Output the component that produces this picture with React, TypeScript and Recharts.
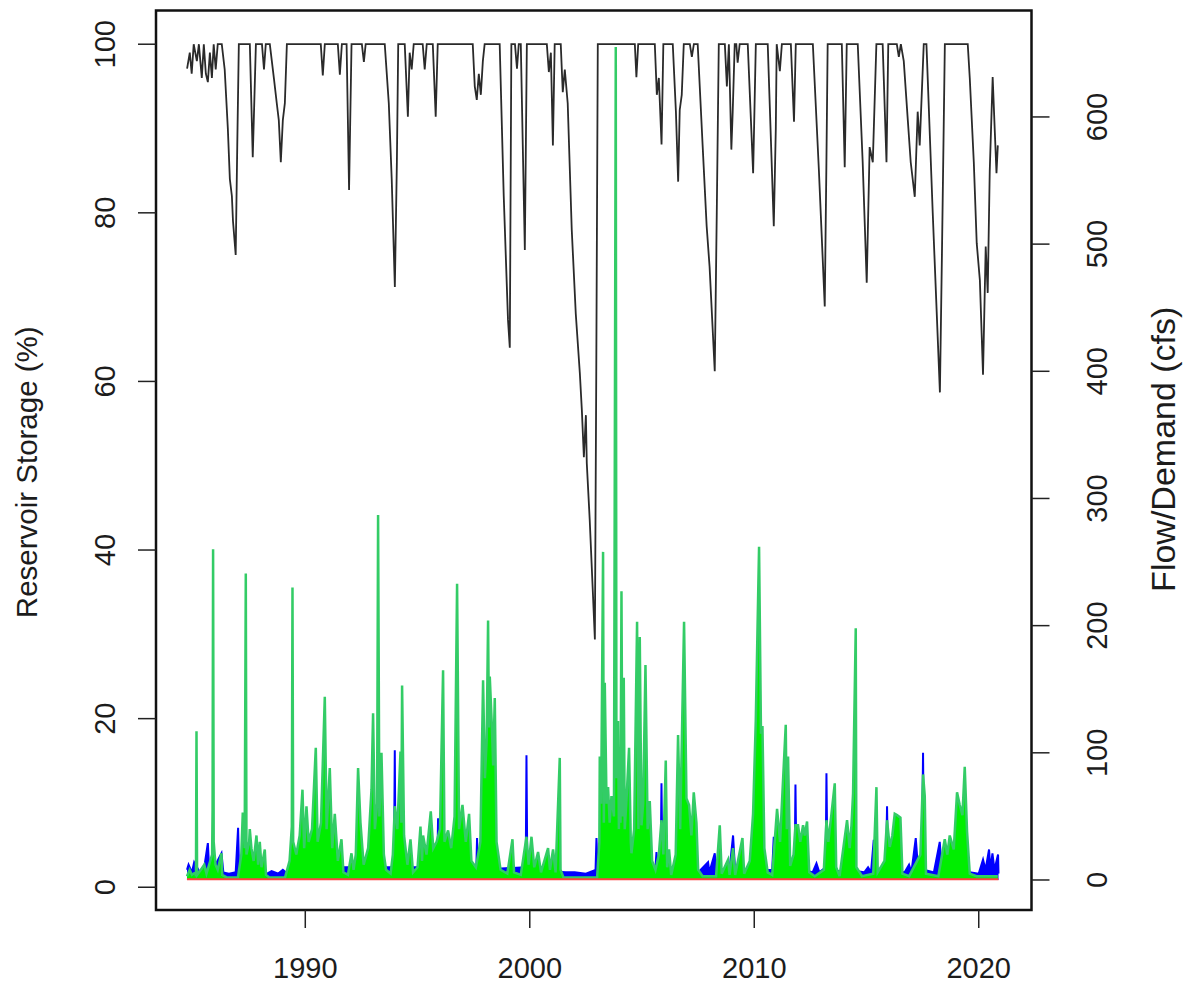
import { ComposedChart, Line, Area, XAxis, YAxis, ReferenceArea } from "recharts";

// Reservoir storage (%), [decimal year, percent full]
const storagePoints: [number, number][] = [
  [1984.735, 97.1], [1984.855, 99], [1984.94, 96.5], [1985.03, 100], [1985.17, 98], [1985.26, 100],
  [1985.39, 96], [1985.48, 100], [1985.57, 96.5], [1985.66, 95.5], [1985.75, 99], [1985.84, 96],
  [1985.92, 100], [1986.01, 97], [1986.1, 100], [1986.28, 100], [1986.41, 97], [1986.55, 90],
  [1986.64, 84], [1986.73, 82], [1986.78, 79], [1986.9, 75], [1986.97, 88], [1987.04, 100],
  [1987.53, 100], [1987.66, 86.6], [1987.8, 100], [1988.07, 100], [1988.16, 97], [1988.24, 100],
  [1988.42, 100], [1988.6, 96], [1988.73, 93], [1988.82, 91], [1988.91, 86], [1989.0, 91],
  [1989.09, 93], [1989.18, 100], [1990.69, 100], [1990.78, 96.3], [1990.87, 100], [1991.45, 100],
  [1991.54, 96.4], [1991.63, 100], [1991.84, 100], [1991.95, 82.7], [1992.06, 100], [1992.52, 100],
  [1992.61, 97.9], [1992.69, 100], [1993.54, 100], [1993.72, 93], [1993.85, 84], [1993.99, 71.2],
  [1994.08, 86], [1994.14, 100], [1994.43, 100], [1994.57, 91.4], [1994.65, 99], [1994.74, 97],
  [1994.83, 100], [1995.23, 100], [1995.32, 97], [1995.41, 100], [1995.68, 100], [1995.81, 91.4],
  [1995.9, 100], [1997.46, 100], [1997.55, 95], [1997.64, 93.4], [1997.73, 96.5], [1997.82, 94],
  [1997.91, 98], [1997.99, 100], [1998.66, 100], [1998.84, 82], [1999.03, 67.3], [1999.11, 64],
  [1999.18, 100], [1999.34, 100], [1999.43, 97.1], [1999.51, 100], [1999.6, 100], [1999.78, 75.6],
  [1999.87, 100], [2000.76, 100], [2000.85, 96.7], [2000.94, 99], [2001.03, 88], [2001.11, 100],
  [2001.38, 100], [2001.47, 94.3], [2001.56, 97], [2001.69, 93], [2001.87, 78], [2002.05, 68],
  [2002.23, 61], [2002.32, 56.6], [2002.41, 51], [2002.5, 56], [2002.54, 50.3], [2002.67, 43.6],
  [2002.81, 35], [2002.9, 29.4], [2002.96, 60], [2003.03, 100], [2004.68, 100], [2004.75, 96.1],
  [2004.83, 100], [2005.57, 100], [2005.66, 94], [2005.75, 96], [2005.87, 88.1], [2005.95, 100],
  [2006.37, 100], [2006.51, 92], [2006.61, 83.7], [2006.68, 92.2], [2006.77, 94], [2006.86, 100],
  [2007.13, 100], [2007.22, 98.5], [2007.31, 100], [2007.48, 100], [2007.7, 88], [2007.88, 78.4],
  [2008.01, 73.6], [2008.24, 61.2], [2008.33, 80], [2008.42, 100], [2008.69, 100], [2008.78, 95],
  [2008.87, 100], [2008.98, 87.5], [2009.04, 92], [2009.13, 100], [2009.2, 100], [2009.26, 97.8],
  [2009.35, 100], [2009.71, 100], [2009.95, 84.7], [2010.07, 100], [2010.6, 100], [2010.87, 78.4],
  [2010.96, 90], [2011.0, 100], [2011.14, 96.8], [2011.23, 100], [2011.63, 100], [2011.77, 90.8],
  [2011.85, 100], [2012.61, 100], [2012.88, 85], [2013.14, 68.9], [2013.21, 85], [2013.27, 100],
  [2013.9, 100], [2013.96, 93.4], [2014.03, 85.4], [2014.12, 100], [2014.61, 100], [2014.83, 86],
  [2015.01, 71.7], [2015.14, 87.8], [2015.28, 86], [2015.44, 100], [2015.72, 100], [2015.89, 86],
  [2015.97, 100], [2016.35, 100], [2016.44, 98.5], [2016.53, 100], [2016.66, 98], [2016.84, 91],
  [2016.97, 86], [2017.15, 81.9], [2017.28, 92], [2017.37, 88], [2017.55, 100], [2017.67, 100],
  [2017.95, 80], [2018.27, 58.7], [2018.36, 75], [2018.49, 100], [2019.51, 100], [2019.6, 96],
  [2019.78, 86], [2019.91, 76.4], [2020.05, 72], [2020.19, 60.8], [2020.31, 76], [2020.4, 70.5],
  [2020.49, 85], [2020.62, 96.1], [2020.71, 90], [2020.79, 84.7], [2020.85, 88],
];

// Inflow (cfs), blue
const inflowPoints: [number, number][] = [
  [1984.73, 8], [1984.8, 12], [1984.95, 6], [1985.05, 14], [1985.3, 6], [1985.5, 10], [1985.66, 29],
  [1985.72, 8], [1986.0, 12], [1986.267, 21], [1986.35, 6], [1986.6, 5], [1986.9, 6], [1987.007, 41],
  [1987.05, 8], [1988.3, 5], [1988.5, 7], [1988.8, 5], [1989.0, 8], [1989.2, 5], [1989.4, 10],
  [1993.95, 10], [1993.987, 102], [1994.02, 10], [1995.88, 10], [1995.915, 48.5],
  [1995.95, 8], [1997.62, 10], [1997.652, 33], [1997.69, 8], [1999.82, 10], [1999.853, 98], [1999.89, 8],
  [2001.6, 6], [2002.0, 6], [2002.5, 5], [2002.93, 8], [2002.971, 33], [2003.02, 10], [2005.6, 10],
  [2005.644, 22], [2005.7, 10], [2005.83, 10], [2005.867, 76], [2005.91, 10], [2007.5, 6], [2007.942, 14],
  [2008.0, 6], [2008.241, 21], [2008.3, 6], [2008.9, 8], [2009.056, 35], [2009.15, 6], [2010.8, 8],
  [2010.869, 34], [2010.95, 8], [2011.8, 10], [2011.835, 75], [2011.88, 10], [2012.6, 6],
  [2012.771, 13], [2012.9, 6], [2013.18, 10], [2013.216, 84], [2013.26, 10], [2013.9, 6],
  [2014.031, 21], [2014.1, 8], [2014.9, 6], [2015.069, 10], [2015.2, 6], [2015.323, 31.5],
  [2015.4, 8], [2015.87, 10], [2015.915, 58], [2015.96, 8], [2016.7, 6], [2016.895, 12], [2017.0, 6],
  [2017.194, 33], [2017.3, 8], [2017.47, 20], [2017.519, 100], [2017.56, 8], [2018.0, 6],
  [2018.263, 30], [2018.35, 8], [2019.6, 6], [2020.0, 5], [2020.191, 16], [2020.3, 8],
  [2020.459, 24], [2020.52, 8], [2020.61, 21], [2020.7, 8], [2020.86, 20], [2020.88, 5],
];

// Release / outflow (cfs), green
const releasePoints: [number, number][] = [
  [1984.73, 3], [1984.85, 8], [1984.95, 4], [1985.1, 6], [1985.13, 3], [1985.154, 117], [1985.18, 4],
  [1985.35, 8], [1985.5, 12], [1985.6, 5], [1985.85, 20], [1985.87, 55], [1985.893, 260],
  [1985.92, 30], [1986.0, 12], [1986.1, 8], [1986.267, 21], [1986.3, 4], [1986.5, 2], [1987.0, 2],
  [1987.15, 20], [1987.216, 53], [1987.3, 25], [1987.35, 241], [1987.38, 20], [1987.5, 30],
  [1987.528, 40], [1987.6, 25], [1987.7, 15], [1987.826, 35], [1987.9, 12], [1987.973, 30],
  [1988.05, 10], [1988.196, 24], [1988.25, 4], [1988.4, 2], [1989.1, 2], [1989.3, 15], [1989.4, 42],
  [1989.43, 230], [1989.46, 30], [1989.6, 20], [1989.75, 35], [1989.875, 71], [1989.95, 25],
  [1990.053, 58], [1990.15, 30], [1990.3, 40], [1990.468, 104], [1990.55, 30], [1990.7, 45],
  [1990.869, 144], [1990.95, 40], [1991.091, 88], [1991.2, 25], [1991.314, 52], [1991.45, 15],
  [1991.612, 32], [1991.7, 6], [1991.9, 4], [1992.058, 21], [1992.15, 8], [1992.25, 20],
  [1992.352, 88], [1992.459, 45], [1992.6, 12], [1992.8, 25], [1992.949, 71], [1993.02, 131],
  [1993.1, 40], [1993.2, 60], [1993.243, 287], [1993.3, 50], [1993.394, 100], [1993.5, 20],
  [1993.6, 8], [1993.8, 5], [1993.9, 20], [1993.987, 58], [1994.1, 40], [1994.241, 101],
  [1994.28, 45], [1994.312, 153], [1994.4, 35], [1994.55, 12], [1994.686, 32], [1994.8, 6], [1995.0, 10],
  [1995.131, 42], [1995.2, 15], [1995.247, 35], [1995.4, 20], [1995.59, 54], [1995.7, 25],
  [1995.85, 30], [1996.0, 40], [1996.138, 165], [1996.2, 30], [1996.361, 39], [1996.5, 25],
  [1996.65, 50], [1996.762, 233], [1996.85, 40], [1997.002, 59], [1997.15, 30], [1997.296, 52],
  [1997.4, 15], [1997.6, 10], [1997.8, 30], [1997.92, 157], [1998.0, 80], [1998.08, 110],
  [1998.143, 204], [1998.18, 120], [1998.218, 160], [1998.3, 126], [1998.37, 90], [1998.441, 143], [1998.52, 30],
  [1998.7, 8], [1999.0, 5], [1999.229, 32], [1999.3, 6], [1999.6, 4], [1999.853, 34], [1999.95, 12],
  [2000.076, 34], [2000.2, 10], [2000.37, 22], [2000.5, 6], [2000.815, 25], [2000.9, 8],
  [2001.038, 24], [2001.15, 6], [2001.336, 96], [2001.37, 8], [2001.5, 2], [2003.0, 2],
  [2003.1, 30], [2003.118, 97], [2003.18, 60], [2003.265, 258], [2003.3, 45], [2003.341, 155], [2003.42, 60],
  [2003.488, 73], [2003.56, 45], [2003.639, 66], [2003.75, 50], [2003.831, 655], [2003.86, 80],
  [2003.933, 125], [2003.97, 40], [2004.0, 90], [2004.04, 45], [2004.085, 227], [2004.13, 50],
  [2004.187, 159], [2004.23, 40], [2004.3, 60], [2004.423, 104],
  [2004.5, 30], [2004.53, 21], [2004.65, 40], [2004.78, 203], [2004.84, 40], [2004.9, 191], [2004.976, 43],
  [2005.05, 60], [2005.154, 169], [2005.25, 40], [2005.345, 62], [2005.45, 15], [2005.6, 8],
  [2005.75, 20], [2005.867, 47], [2005.95, 20], [2006.058, 94], [2006.12, 10], [2006.205, 24],
  [2006.3, 4], [2006.5, 20], [2006.606, 114], [2006.7, 40], [2006.873, 203], [2006.98, 64],
  [2007.096, 59], [2007.2, 35], [2007.305, 69], [2007.425, 45], [2007.5, 8], [2007.7, 3],
  [2008.3, 3], [2008.463, 43], [2008.55, 5], [2008.833, 16], [2008.9, 4], [2009.056, 25],
  [2009.15, 4], [2009.474, 33], [2009.55, 5], [2009.8, 15], [2009.947, 52], [2010.067, 125],
  [2010.214, 262], [2010.3, 115], [2010.365, 121], [2010.45, 25], [2010.6, 6], [2010.8, 4],
  [2011.016, 56], [2011.15, 30], [2011.283, 79], [2011.403, 122], [2011.45, 40], [2011.506, 97], [2011.6, 11],
  [2011.75, 20], [2011.835, 43], [2011.951, 43], [2012.05, 30], [2012.174, 43], [2012.25, 35],
  [2012.352, 46], [2012.45, 6], [2012.7, 3], [2013.1, 8], [2013.216, 47], [2013.3, 30],
  [2013.439, 52], [2013.586, 76], [2013.65, 10], [2013.8, 3], [2014.134, 47], [2014.25, 25],
  [2014.33, 43], [2014.401, 68], [2014.521, 198], [2014.55, 10], [2014.8, 3], [2015.3, 5],
  [2015.443, 73], [2015.5, 6], [2015.8, 15], [2015.915, 47], [2016.036, 26], [2016.15, 35],
  [2016.258, 52], [2016.361, 51], [2016.512, 49], [2016.6, 5], [2016.9, 3], [2017.4, 20],
  [2017.519, 83], [2017.595, 66], [2017.65, 5], [2018.2, 3], [2018.486, 32], [2018.6, 20],
  [2018.708, 35], [2018.886, 24], [2019.033, 69], [2019.154, 59], [2019.274, 51], [2019.376, 89],
  [2019.479, 38], [2019.6, 5], [2019.9, 3], [2020.85, 3],
];

// Demand (cfs), red
const demandPoints: [number, number][] = [[1984.73, 0.5], [2020.88, 0.5]];

const yearTicks = [1990, 2000, 2010, 2020];
const storageTicks = [0, 20, 40, 60, 80, 100];
const flowTicks = [0, 100, 200, 300, 400, 500, 600];

const YEAR_DOMAIN: [number, number] = [1983.35, 2022.35];
const STORAGE_DOMAIN: [number, number] = [-2.7, 104];
const FLOW_DOMAIN: [number, number] = [-23.6, 683.7];

const FONT = "'Liberation Sans', Arial, Helvetica, sans-serif";
const FONT_SIZE = 29;
const INK = "#1c1c1c";

const rows = (pts: [number, number][]) => pts.map(([year, v]) => ({ year, v }));

function RotatedTick({ x, y, payload, dx = 0 }: any) {
  const cx = x + dx;
  return (
    <text
      x={cx}
      y={y}
      transform={`rotate(-90 ${cx} ${y})`}
      textAnchor="middle"
      dominantBaseline="central"
      fontFamily={FONT}
      fontSize={FONT_SIZE}
      fill={INK}
    >
      {payload.value}
    </text>
  );
}

function YearTick({ x, y, payload }: any) {
  return (
    <text x={x} y={y + 40} textAnchor="middle" dominantBaseline="central" fontFamily={FONT} fontSize={FONT_SIZE} fill={INK}>
      {payload.value}
    </text>
  );
}

function axisTitle(text: string, offset: number, shiftY: number, size: number) {
  return ({ viewBox }: any) => {
    const cx = viewBox.x + offset;
    const cy = viewBox.y + viewBox.height / 2 + shiftY;
    return (
      <text
        x={cx}
        y={cy}
        transform={`rotate(-90 ${cx} ${cy})`}
        textAnchor="middle"
        dominantBaseline="central"
        fontFamily={FONT}
        fontSize={size}
        fill={INK}
      >
        {text}
      </text>
    );
  };
}

export default function App() {
  const tickLine = { stroke: "#222", strokeWidth: 1.5 };
  return (
    <ComposedChart width={1177} height={980} margin={{ top: 2.5, right: 0, bottom: 0, left: 0 }}>
      <XAxis
        dataKey="year"
        type="number"
        domain={YEAR_DOMAIN}
        ticks={yearTicks}
        allowDataOverflow
        height={78}
        axisLine={false}
        tickLine={tickLine}
        tickSize={18}
        tickMargin={0}
        tick={<YearTick />}
      />
      <YAxis
        yAxisId="pct"
        orientation="left"
        domain={STORAGE_DOMAIN}
        ticks={storageTicks}
        allowDataOverflow
        width={148}
        axisLine={false}
        tickLine={tickLine}
        tickSize={18}
        tickMargin={0}
        tick={<RotatedTick dx={-33} />}
        label={{ content: axisTitle("Reservoir Storage (%)", 18, 12, 29.5) }}
      />
      <YAxis
        yAxisId="cfs"
        orientation="right"
        domain={FLOW_DOMAIN}
        ticks={flowTicks}
        allowDataOverflow
        width={153.5}
        axisLine={false}
        tickLine={tickLine}
        tickSize={18}
        tickMargin={0}
        tick={<RotatedTick dx={47.5} />}
        label={{ content: axisTitle("Flow/Demand (cfs)", 131, -11, 34) }}
      />
      <Line
        yAxisId="pct"
        data={rows(storagePoints)}
        dataKey="v"
        type="linear"
        stroke="#2a2a2a"
        strokeWidth={1.8}
        dot={false}
        isAnimationActive={false}
      />
      <Area
        yAxisId="cfs"
        data={rows(inflowPoints)}
        dataKey="v"
        type="linear"
        stroke="#0000ff"
        strokeWidth={2}
        fill="#0000ff"
        fillOpacity={1}
        dot={false}
        isAnimationActive={false}
      />
      <Area
        yAxisId="cfs"
        data={rows(releasePoints)}
        dataKey="v"
        type="linear"
        stroke="#33cc66"
        strokeWidth={2.5}
        fill="#00ee00"
        fillOpacity={1}
        dot={false}
        isAnimationActive={false}
      />
      <Line
        yAxisId="cfs"
        data={rows(demandPoints)}
        dataKey="v"
        type="linear"
        stroke="#ff4040"
        strokeWidth={2}
        dot={false}
        isAnimationActive={false}
      />
      <ReferenceArea
        yAxisId="pct"
        x1={YEAR_DOMAIN[0]}
        x2={YEAR_DOMAIN[1]}
        y1={STORAGE_DOMAIN[0]}
        y2={STORAGE_DOMAIN[1]}
        fill="none"
        stroke="#111"
        strokeWidth={2.5}
        ifOverflow="visible"
      />
    </ComposedChart>
  );
}
